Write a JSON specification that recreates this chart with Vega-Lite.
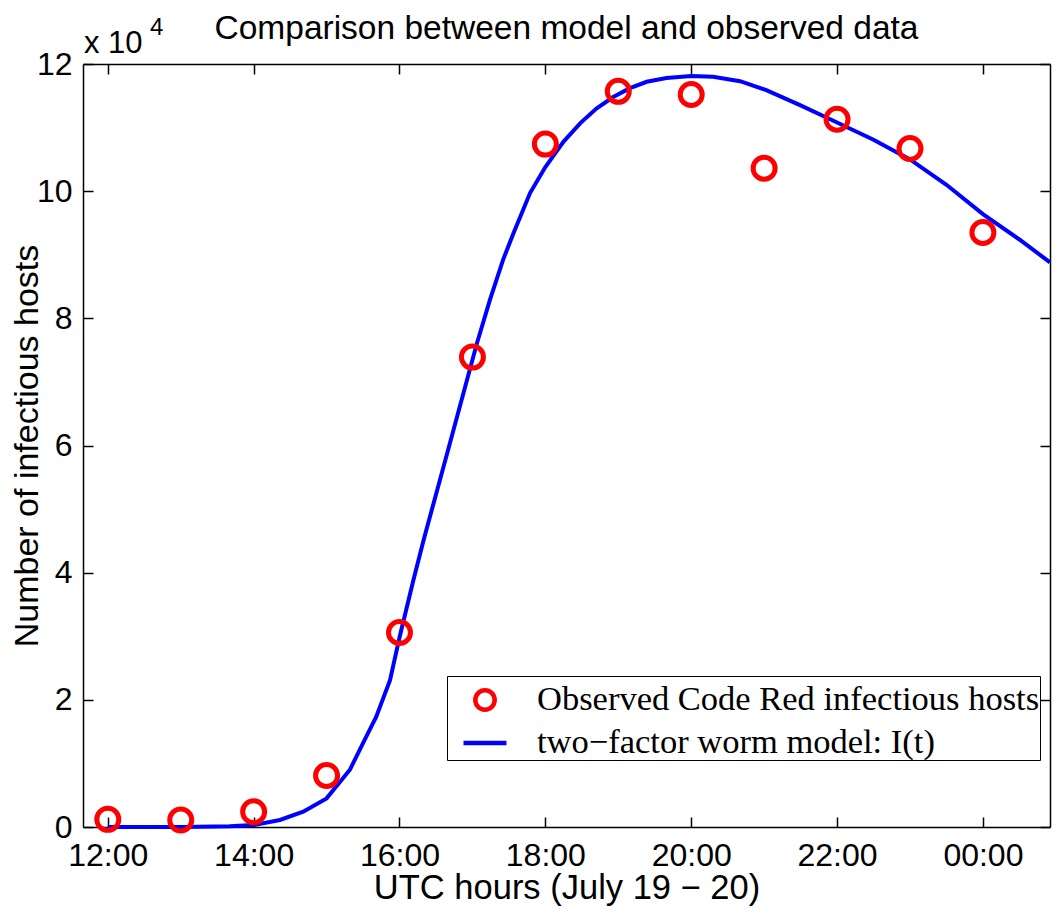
{
  "$schema": "https://vega.github.io/schema/vega-lite/v6.json",
  "width": 967,
  "height": 763,
  "autosize": {"type": "none"},
  "padding": {"left": 83, "top": 64, "right": 7, "bottom": 86},
  "background": "white",
  "title": {"text": "Comparison between model and observed data", "font": "Liberation Sans", "fontSize": 33.5, "fontWeight": "normal", "color": "black", "offset": -30, "anchor": "middle"},
  "config": {
    "view": {"stroke": null},
    "axis": {"grid": false, "domainColor": "black", "domainWidth": 1.5, "tickColor": "black", "tickWidth": 1.5, "labelColor": "black", "titleColor": "black", "labelFont": "Liberation Sans", "titleFont": "Liberation Sans", "titleFontWeight": "normal"}
  },
  "datasets": {
    "model": [
      {"hour": 12.0, "infected": 0.0, "series": "two−factor worm model: I(t)"},
      {"hour": 13.0, "infected": 0.0, "series": "two−factor worm model: I(t)"},
      {"hour": 13.67, "infected": 0.01, "series": "two−factor worm model: I(t)"},
      {"hour": 14.0, "infected": 0.03, "series": "two−factor worm model: I(t)"},
      {"hour": 14.36, "infected": 0.11, "series": "two−factor worm model: I(t)"},
      {"hour": 14.68, "infected": 0.24, "series": "two−factor worm model: I(t)"},
      {"hour": 15.0, "infected": 0.45, "series": "two−factor worm model: I(t)"},
      {"hour": 15.32, "infected": 0.9, "series": "two−factor worm model: I(t)"},
      {"hour": 15.5, "infected": 1.32, "series": "two−factor worm model: I(t)"},
      {"hour": 15.68, "infected": 1.73, "series": "two−factor worm model: I(t)"},
      {"hour": 15.87, "infected": 2.31, "series": "two−factor worm model: I(t)"},
      {"hour": 16.0, "infected": 2.98, "series": "two−factor worm model: I(t)"},
      {"hour": 16.19, "infected": 3.88, "series": "two−factor worm model: I(t)"},
      {"hour": 16.33, "infected": 4.51, "series": "two−factor worm model: I(t)"},
      {"hour": 16.64, "infected": 5.82, "series": "two−factor worm model: I(t)"},
      {"hour": 17.06, "infected": 7.6, "series": "two−factor worm model: I(t)"},
      {"hour": 17.24, "infected": 8.29, "series": "two−factor worm model: I(t)"},
      {"hour": 17.42, "infected": 8.92, "series": "two−factor worm model: I(t)"},
      {"hour": 17.56, "infected": 9.33, "series": "two−factor worm model: I(t)"},
      {"hour": 17.79, "infected": 9.97, "series": "two−factor worm model: I(t)"},
      {"hour": 18.0, "infected": 10.38, "series": "two−factor worm model: I(t)"},
      {"hour": 18.25, "infected": 10.78, "series": "two−factor worm model: I(t)"},
      {"hour": 18.48, "infected": 11.07, "series": "two−factor worm model: I(t)"},
      {"hour": 18.7, "infected": 11.3, "series": "two−factor worm model: I(t)"},
      {"hour": 18.93, "infected": 11.48, "series": "two−factor worm model: I(t)"},
      {"hour": 19.16, "infected": 11.62, "series": "two−factor worm model: I(t)"},
      {"hour": 19.39, "infected": 11.72, "series": "two−factor worm model: I(t)"},
      {"hour": 19.66, "infected": 11.78, "series": "two−factor worm model: I(t)"},
      {"hour": 20.0, "infected": 11.81, "series": "two−factor worm model: I(t)"},
      {"hour": 20.3, "infected": 11.8, "series": "two−factor worm model: I(t)"},
      {"hour": 20.67, "infected": 11.73, "series": "two−factor worm model: I(t)"},
      {"hour": 21.03, "infected": 11.59, "series": "two−factor worm model: I(t)"},
      {"hour": 21.5, "infected": 11.35, "series": "two−factor worm model: I(t)"},
      {"hour": 22.0, "infected": 11.08, "series": "two−factor worm model: I(t)"},
      {"hour": 22.5, "infected": 10.81, "series": "two−factor worm model: I(t)"},
      {"hour": 23.0, "infected": 10.5, "series": "two−factor worm model: I(t)"},
      {"hour": 23.5, "infected": 10.1, "series": "two−factor worm model: I(t)"},
      {"hour": 24.0, "infected": 9.64, "series": "two−factor worm model: I(t)"},
      {"hour": 24.5, "infected": 9.24, "series": "two−factor worm model: I(t)"},
      {"hour": 24.92, "infected": 8.88, "series": "two−factor worm model: I(t)"}
    ],
    "observed": [
      {"hour": 12, "infected": 0.12, "series": "Observed Code Red infectious hosts"},
      {"hour": 13, "infected": 0.11, "series": "Observed Code Red infectious hosts"},
      {"hour": 14, "infected": 0.24, "series": "Observed Code Red infectious hosts"},
      {"hour": 15, "infected": 0.81, "series": "Observed Code Red infectious hosts"},
      {"hour": 16, "infected": 3.06, "series": "Observed Code Red infectious hosts"},
      {"hour": 17, "infected": 7.39, "series": "Observed Code Red infectious hosts"},
      {"hour": 18, "infected": 10.74, "series": "Observed Code Red infectious hosts"},
      {"hour": 19, "infected": 11.57, "series": "Observed Code Red infectious hosts"},
      {"hour": 20, "infected": 11.52, "series": "Observed Code Red infectious hosts"},
      {"hour": 21, "infected": 10.36, "series": "Observed Code Red infectious hosts"},
      {"hour": 22, "infected": 11.13, "series": "Observed Code Red infectious hosts"},
      {"hour": 23, "infected": 10.67, "series": "Observed Code Red infectious hosts"},
      {"hour": 24, "infected": 9.35, "series": "Observed Code Red infectious hosts"}
    ],
    "note": [{"base": "x 10", "exponent": "4"}]
  },
  "layer": [
    {
      "data": {"name": "model"},
      "mark": {"type": "line", "strokeWidth": 4, "opacity": 1},
      "encoding": {
        "x": {"field": "hour", "type": "quantitative", "scale": {"domain": [11.66, 24.92], "nice": false, "zero": false},
          "axis": {"orient": "bottom", "values": [12, 14, 16, 18, 20, 22, 24], "labelExpr": "(datum.value % 24 < 10 ? '0' : '') + (datum.value % 24) + ':00'", "title": "UTC hours (July 19 − 20)", "titleFontSize": 34.5, "labelFontSize": 32, "tickSize": -10, "labelPadding": 23, "titlePadding": 0, "labelFlush": false, "labelOverlap": false}},
        "y": {"field": "infected", "type": "quantitative", "scale": {"domain": [0, 12], "nice": false, "zero": true},
          "axis": {"orient": "left", "values": [0, 2, 4, 6, 8, 10, 12], "title": "Number of infectious hosts", "titleFontSize": 34, "labelFontSize": 32, "tickSize": -10, "labelPadding": 21, "titlePadding": -8, "labelFlush": false}},
        "color": {"field": "series", "type": "nominal",
          "scale": {"domain": ["Observed Code Red infectious hosts", "two−factor worm model: I(t)"], "range": ["#ff0000", "#0000ff"]},
          "legend": {"title": null, "orient": "none", "legendX": 364, "legendY": 612, "fillColor": "white", "strokeColor": "black", "padding": 0, "symbolOffset": 14, "labelFont": "Liberation Serif", "labelFontSize": 34.5, "labelColor": "black", "symbolStrokeWidth": 4.5, "symbolSize": 1850, "symbolOpacity": 1, "labelOffset": 28, "rowPadding": 0, "labelLimit": 1000}}
      }
    },
    {
      "data": {"name": "observed"},
      "mark": {"type": "point", "filled": false, "strokeWidth": 5, "size": 2390, "opacity": 1},
      "encoding": {
        "x": {"field": "hour", "type": "quantitative", "axis": {"orient": "top", "values": [12, 14, 16, 18, 20, 22, 24], "labels": false, "title": null, "tickSize": -10}},
        "y": {"field": "infected", "type": "quantitative", "axis": {"orient": "right", "values": [0, 2, 4, 6, 8, 10, 12], "labels": false, "title": null, "tickSize": -10}},
        "color": {"field": "series", "type": "nominal"},
        "shape": {"field": "series", "type": "nominal",
          "scale": {"domain": ["Observed Code Red infectious hosts", "two−factor worm model: I(t)"], "range": ["M0.45,0A0.45,0.45,0,1,1,-0.45,0A0.45,0.45,0,1,1,0.45,0Z", "M-1,0H1"]}}
      }
    },
    {
      "data": {"name": "note"},
      "mark": {"type": "text", "align": "left", "baseline": "alphabetic", "dx": 1, "dy": -11, "font": "Liberation Sans", "fontSize": 31, "color": "black"},
      "encoding": {
        "text": {"field": "base"},
        "x": {"datum": 11.66, "type": "quantitative", "axis": null},
        "y": {"datum": 12, "type": "quantitative", "axis": null}
      }
    },
    {
      "data": {"name": "note"},
      "mark": {"type": "text", "align": "left", "baseline": "alphabetic", "dx": 67, "dy": -29, "font": "Liberation Sans", "fontSize": 24, "color": "black"},
      "encoding": {
        "text": {"field": "exponent"},
        "x": {"datum": 11.66, "type": "quantitative", "axis": null},
        "y": {"datum": 12, "type": "quantitative", "axis": null}
      }
    }
  ],
  "resolve": {"axis": {"x": "independent", "y": "independent"}}
}
